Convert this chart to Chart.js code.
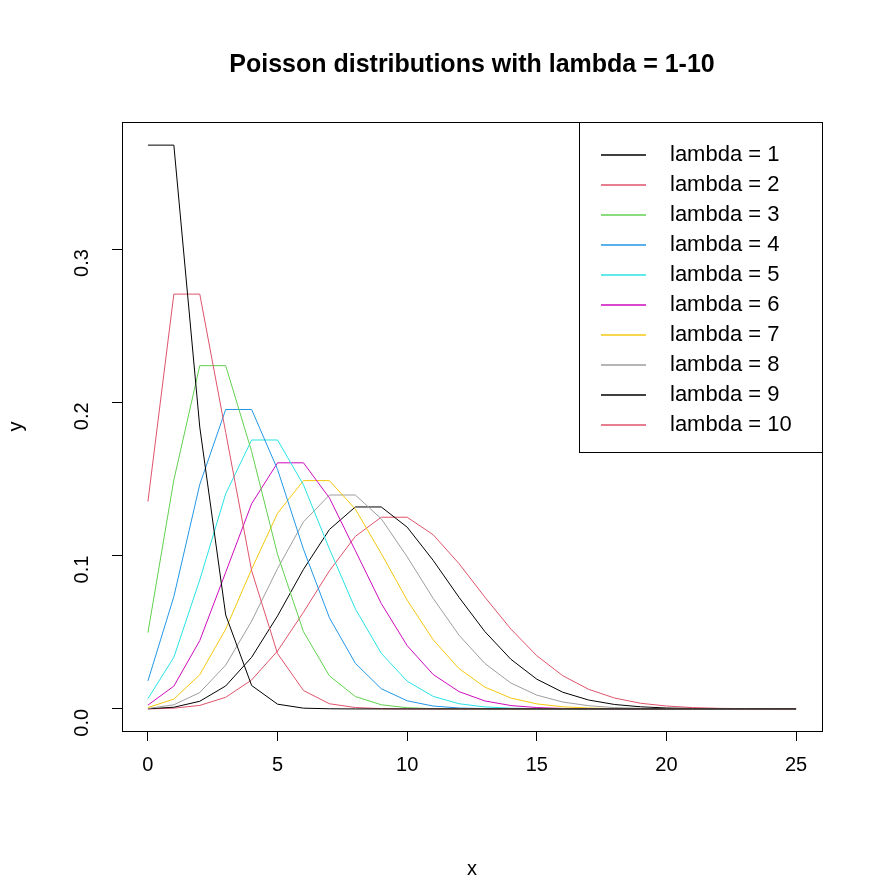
<!DOCTYPE html>
<html>
<head>
<meta charset="utf-8">
<script src="https://cdn.jsdelivr.net/npm/chart.js@4"></script>
<style>body{margin:0;background:#fff}</style>
</head>
<body>
<canvas id="grafico" width="885" height="885"></canvas>
<script>
var xs = [];
for (var i = 0; i <= 25; i++) xs.push(i);
var lambdas = [1, 2, 3, 4, 5, 6, 7, 8, 9, 10];
var colores = ["#000000", "#DF536B", "#61D04F", "#2297E6", "#28E2E5", "#CD0BBC", "#F5C710", "#9E9E9E", "#000000", "#DF536B"];
var y1 = [0.3679,0.3679,0.1839,0.0613,0.0153,0.0031,0.0005,0.0001,0,0,0,0,0,0,0,0,0,0,0,0,0,0,0,0,0,0];
var y2 = [0.1353,0.2707,0.2707,0.1804,0.0902,0.0361,0.0120,0.0034,0.0009,0.0002,0,0,0,0,0,0,0,0,0,0,0,0,0,0,0,0];
var y3 = [0.0498,0.1494,0.2240,0.2240,0.1680,0.1008,0.0504,0.0216,0.0081,0.0027,0.0008,0.0002,0.0001,0,0,0,0,0,0,0,0,0,0,0,0,0];
var y4 = [0.0183,0.0733,0.1465,0.1954,0.1954,0.1563,0.1042,0.0595,0.0298,0.0132,0.0053,0.0019,0.0006,0.0002,0.0001,0,0,0,0,0,0,0,0,0,0,0];
var y5 = [0.0067,0.0337,0.0842,0.1404,0.1755,0.1755,0.1462,0.1044,0.0653,0.0363,0.0181,0.0082,0.0034,0.0013,0.0005,0.0002,0,0,0,0,0,0,0,0,0,0];
var y6 = [0.0025,0.0149,0.0446,0.0892,0.1339,0.1606,0.1606,0.1377,0.1033,0.0688,0.0413,0.0225,0.0113,0.0052,0.0022,0.0009,0.0003,0.0001,0,0,0,0,0,0,0,0];
var y7 = [0.0009,0.0064,0.0223,0.0521,0.0912,0.1277,0.1490,0.1490,0.1304,0.1014,0.0710,0.0452,0.0263,0.0142,0.0071,0.0033,0.0014,0.0006,0.0002,0.0001,0,0,0,0,0,0];
var y8 = [0.0003,0.0027,0.0107,0.0286,0.0573,0.0916,0.1221,0.1396,0.1396,0.1241,0.0993,0.0722,0.0481,0.0296,0.0169,0.0090,0.0045,0.0021,0.0009,0.0004,0.0002,0.0001,0,0,0,0];
var y9 = [0.0001,0.0011,0.0050,0.0150,0.0337,0.0607,0.0911,0.1171,0.1318,0.1318,0.1186,0.0970,0.0728,0.0504,0.0324,0.0194,0.0109,0.0058,0.0029,0.0014,0.0006,0.0003,0.0001,0,0,0];
var y10 = [0,0.0005,0.0023,0.0076,0.0189,0.0378,0.0631,0.0901,0.1126,0.1251,0.1251,0.1137,0.0948,0.0729,0.0521,0.0347,0.0217,0.0128,0.0071,0.0037,0.0019,0.0009,0.0004,0.0002,0.0001,0];
var series = [y1, y2, y3, y4, y5, y6, y7, y8, y9, y10];
var xTicks = [0, 5, 10, 15, 20, 25];
var yTicks = [0, 0.1, 0.2, 0.3];

var datasets = series.map(function (s, k) {
    return {
        label: "lambda = " + lambdas[k],
        data: s.map(function (v, i) { return {x: xs[i], y: v}; }),
        borderColor: colores[k],
        borderWidth: 1,
        pointRadius: 0,
        tension: 0,
        fill: false
    };
});

var FONT = "'Liberation Sans', Arial, sans-serif";

var extras = {
    id: "extras",
    afterDraw: function (chart) {
        var c = chart.ctx, a = chart.chartArea;
        c.save();
        c.globalAlpha = 1;
        c.setLineDash([]);
        c.strokeStyle = "#000";
        c.lineWidth = 1;
        c.strokeRect(a.left + 0.5, a.top + 0.5, a.right - a.left, a.bottom - a.top);
        c.fillStyle = "#000";
        c.textAlign = "center";
        c.textBaseline = "middle";
        c.font = "bold 25px " + FONT;
        c.fillText("Poisson distributions with lambda = 1-10", 472, 65);
        // legend
        var lx = 579, ly = 122, lw = a.right - lx, lh = 330;
        c.fillStyle = "#fff";
        c.fillRect(lx, ly, lw, lh);
        c.strokeStyle = "#000";
        c.strokeRect(lx + 0.5, ly + 0.5, lw, lh);
        c.font = "22px " + FONT;
        c.textAlign = "left";
        for (var k = 0; k < lambdas.length; k++) {
            var y = 155 + k * 30;
            c.strokeStyle = colores[k];
            c.lineWidth = 1.3;
            c.beginPath();
            c.moveTo(601, y);
            c.lineTo(646, y);
            c.stroke();
            c.fillStyle = "#000";
            c.fillText("lambda = " + lambdas[k], 670, y);
        }
        c.restore();
    }
};

new Chart(document.getElementById("grafico").getContext("2d"), {
    type: "line",
    data: {datasets: datasets},
    options: {
        responsive: false,
        animation: false,
        layout: {padding: {left: 0, top: 122, right: 63, bottom: 0}},
        plugins: {legend: {display: false}, tooltip: {enabled: false}},
        scales: {
            x: {
                type: "linear",
                min: -1, max: 26,
                afterBuildTicks: function (s) { s.ticks = xTicks.map(function (v) { return {value: v}; }); },
                afterFit: function (s) { s.height = 154; },
                grid: {drawOnChartArea: false, tickLength: 10, color: "#000"},
                border: {color: "#000"},
                ticks: {color: "#000", font: {size: 20, family: FONT}, padding: 12, maxRotation: 0},
                title: {display: true, text: "x", color: "#000", font: {size: 20, family: FONT}, padding: {top: 0}}
            },
            y: {
                min: -0.0144, max: 0.383,
                afterBuildTicks: function (s) { s.ticks = yTicks.map(function (v) { return {value: v}; }); },
                afterFit: function (s) { s.width = 122; },
                grid: {drawOnChartArea: false, tickLength: 10, color: "#000"},
                border: {color: "#000"},
                ticks: {color: "#000", font: {size: 20, family: FONT}, padding: 30, minRotation: 90, maxRotation: 90,
                        callback: function (v) { return v.toFixed(1); }},
                title: {display: true, text: "y", color: "#000", font: {size: 20, family: FONT}, padding: {bottom: 2}}
            }
        }
    },
    plugins: [extras]
});
</script>
</body>
</html>
